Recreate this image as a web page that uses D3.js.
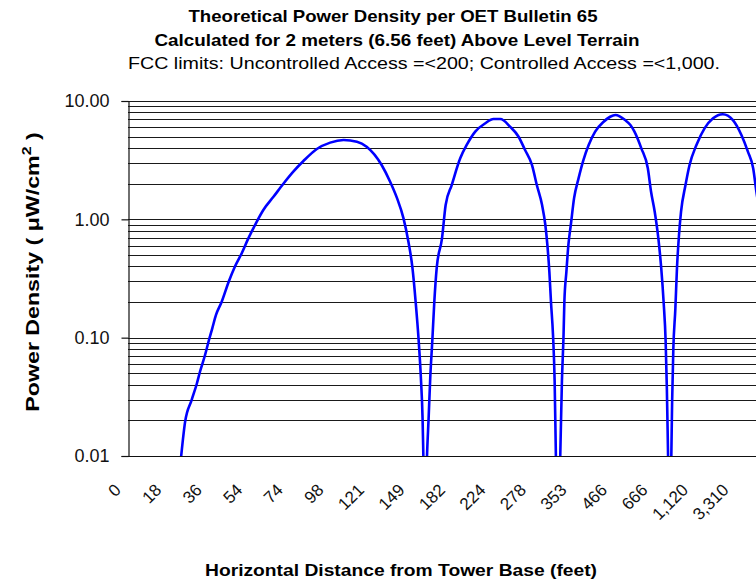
<!DOCTYPE html>
<html>
<head>
<meta charset="utf-8">
<script src="https://cdn.jsdelivr.net/npm/d3@7"></script>
<style>
  body { margin: 0; background: #fff; }
  svg { display: block; font-family: "Liberation Sans", Arial, sans-serif; }
</style>
</head>
<body>
<svg id="chart" width="756" height="579"></svg>
<script>
// category labels, one every 10 points along the axis
var tickLabels = ["0", "18", "36", "54", "74", "98", "121", "149", "182", "224", "278", "353", "466", "666", "1,120", "3,310"];
var tickIndex = [0, 10, 20, 30, 40, 50, 60, 70, 80, 90, 100, 110, 120, 130, 140, 150];
var yTicks = [0.01, 0.1, 1, 10];

// position along the category axis (points) and power density (uW/cm2)
var pointIndex = [13.1, 14.1, 15.7, 17.0, 17.8, 19.0, 20.0, 20.8, 21.7, 23.1, 24.9, 26.4, 28.1, 29.7, 31.6, 33.4, 35.9, 38.4, 40.8,
    43.3, 46.6, 49.9, 53.2, 56.5, 58.9, 62.6, 64.7, 66.4, 68.0, 69.2, 70.2, 71.0, 71.7, 72.3, 72.7, 72.9, 73.3, 73.8,
    74.2, 74.6, 75.1, 75.6, 76.2, 77.5, 78.4, 79.9, 82.0, 83.6, 85.7, 88.2, 90.2, 91.9, 94.3, 96.4, 98.0, 99.7, 100.9, 102.2,
    103.0, 103.5, 104.0, 104.4, 104.9, 105.3, 105.6, 106.1, 106.7, 107.1, 107.5, 107.7, 108.2, 108.7, 109.3, 110.1, 111.2, 112.4, 113.7, 115.3,
    117.4, 119.0, 120.3, 122.7, 124.0, 125.0, 126.7, 128.3, 129.1, 130.0, 130.9, 131.6, 132.2, 132.7, 133.0, 133.3, 133.7, 134.1, 134.3, 134.6,
    135.1, 135.5, 136.0, 136.5, 137.6, 138.6, 140.3, 142.3, 144.4, 146.8, 149.3, 151.4, 153.0, 154.3, 155.1, 156.0];
var powerDensity = [0.0098, 0.0195, 0.0297, 0.041, 0.052, 0.071, 0.096, 0.12, 0.155, 0.20, 0.30, 0.40, 0.52, 0.69, 0.93, 1.20, 1.55, 2.01, 2.53,
    3.11, 3.93, 4.45, 4.68, 4.53, 4.11, 2.88, 2.08, 1.51, 1.02, 0.65, 0.39, 0.20, 0.099, 0.045, 0.021, 0.010, 0.002, 0.010,
    0.021, 0.046, 0.093, 0.20, 0.39, 0.69, 1.32, 1.95, 3.28, 4.25, 5.51, 6.49, 7.04, 7.04, 6.07, 4.99, 3.85, 2.88, 1.95, 1.32,
    0.90, 0.61, 0.36, 0.20, 0.105, 0.043, 0.0105, 0.002, 0.0105, 0.043, 0.105, 0.20, 0.36, 0.61, 0.90, 1.51, 2.22, 3.17, 4.25, 5.51,
    6.68, 7.36, 7.62, 6.90, 6.27, 5.51, 3.98, 2.70, 1.71, 1.16, 0.69, 0.39, 0.20, 0.093, 0.037, 0.010, 0.002, 0.010, 0.029, 0.081,
    0.177, 0.39, 0.74, 1.16, 1.95, 2.88, 4.25, 5.87, 7.14, 7.73, 6.90, 5.16, 3.73, 2.70, 1.71, 1.10];

var plotLeft = 128, plotRight = 756, plotTop = 101, plotBottom = 456;
var svg = d3.select("#chart");

var x = d3.scaleLinear().domain([0, 155]).range([plotLeft, plotRight]);
var y = d3.scaleLog().domain([0.01, 10]).range([plotBottom, plotTop]);

// titles (widths fitted to the original, which is stretched a little)
var titles = [
    { text: "Theoretical Power Density per OET Bulletin 65", y: 22, bold: true, cx: 393, len: 409 },
    { text: "Calculated for 2 meters (6.56 feet) Above Level Terrain", y: 46, bold: true, cx: 397, len: 485 },
    { text: "FCC limits: Uncontrolled Access =<200; Controlled Access =<1,000.", y: 69, bold: false, cx: 424, len: 592 }
];
svg.selectAll("text.title")
    .data(titles)
    .enter()
    .append("text")
    .attr("class", "title")
    .attr("x", function (d) { return d.cx; })
    .attr("y", function (d) { return d.y; })
    .attr("text-anchor", "middle")
    .attr("font-size", 17)
    .attr("font-weight", function (d) { return d.bold ? "bold" : "normal"; })
    .attr("textLength", function (d) { return d.len; })
    .attr("lengthAdjust", "spacingAndGlyphs")
    .text(function (d) { return d.text; });

// minor + major horizontal gridlines
var gridValues = [];
[0.01, 0.1, 1].forEach(function (dec) {
    for (var k = 1; k <= 9; k++) gridValues.push(dec * k);
});
gridValues.push(10);
svg.append("g")
    .selectAll("line")
    .data(gridValues)
    .enter()
    .append("line")
    .attr("x1", plotLeft)
    .attr("x2", plotRight)
    .attr("y1", function (d) { return Math.round(y(d)) + 0.5; })
    .attr("y2", function (d) { return Math.round(y(d)) + 0.5; })
    .attr("stroke", "#1a1a1a")
    .attr("stroke-width", 1.2);

// y axis
var yAxis = d3.axisLeft(y)
    .tickValues(yTicks)
    .tickSize(7)
    .tickPadding(12)
    .tickFormat(d3.format(".2f"));
var gy = svg.append("g")
    .attr("transform", "translate(" + (plotLeft + 0.5) + ",0)")
    .call(yAxis);
gy.select(".domain").attr("stroke", "#111").attr("stroke-width", 1.2);
gy.selectAll(".tick line").attr("stroke", "#111").attr("stroke-width", 1.2);
gy.selectAll(".tick text")
    .attr("font-size", 18)
    .attr("font-family", "Liberation Sans, Arial, sans-serif")
    .attr("fill", "#111");

// x axis line
svg.append("line")
    .attr("x1", plotLeft)
    .attr("x2", plotRight)
    .attr("y1", plotBottom + 0.5)
    .attr("y2", plotBottom + 0.5)
    .attr("stroke", "#111")
    .attr("stroke-width", 1.2);

// x category labels, rotated
svg.append("g")
    .selectAll("text")
    .data(tickLabels)
    .enter()
    .append("text")
    .attr("transform", function (d, i) {
        return "translate(" + (x(tickIndex[i]) - 6) + ",491) rotate(-45)";
    })
    .attr("text-anchor", "end")
    .attr("font-size", 17)
    .attr("fill", "#111")
    .text(function (d) { return d; });

// the curve
svg.append("clipPath")
    .attr("id", "plotClip")
    .append("rect")
    .attr("x", plotLeft)
    .attr("y", plotTop - 5)
    .attr("width", plotRight - plotLeft)
    .attr("height", plotBottom - plotTop + 5);

var line = d3.line()
    .curve(d3.curveMonotoneX)
    .x(function (d, i) { return x(pointIndex[i]); })
    .y(function (d) { return y(d); });

svg.append("path")
    .datum(powerDensity)
    .attr("clip-path", "url(#plotClip)")
    .attr("fill", "none")
    .attr("stroke", "#0000ff")
    .attr("stroke-width", 2.6)
    .attr("stroke-linejoin", "round")
    .attr("d", line);

// axis titles (y title is stretched along its length like the original)
var yTitle = svg.append("text")
    .attr("transform", "translate(39,272) rotate(-90) scale(1.22,1)")
    .attr("text-anchor", "middle")
    .attr("font-size", 19)
    .attr("font-weight", "bold");
yTitle.append("tspan").text("Power Density ( \u03bcW/cm");
yTitle.append("tspan").attr("font-size", 13).attr("dy", -8).text("2");
yTitle.append("tspan").attr("dy", 8).text(" )");

svg.append("text")
    .attr("x", 401)
    .attr("y", 576)
    .attr("text-anchor", "middle")
    .attr("font-size", 17)
    .attr("font-weight", "bold")
    .attr("textLength", 392)
    .attr("lengthAdjust", "spacingAndGlyphs")
    .text("Horizontal Distance from Tower Base (feet)");
</script>
</body>
</html>
